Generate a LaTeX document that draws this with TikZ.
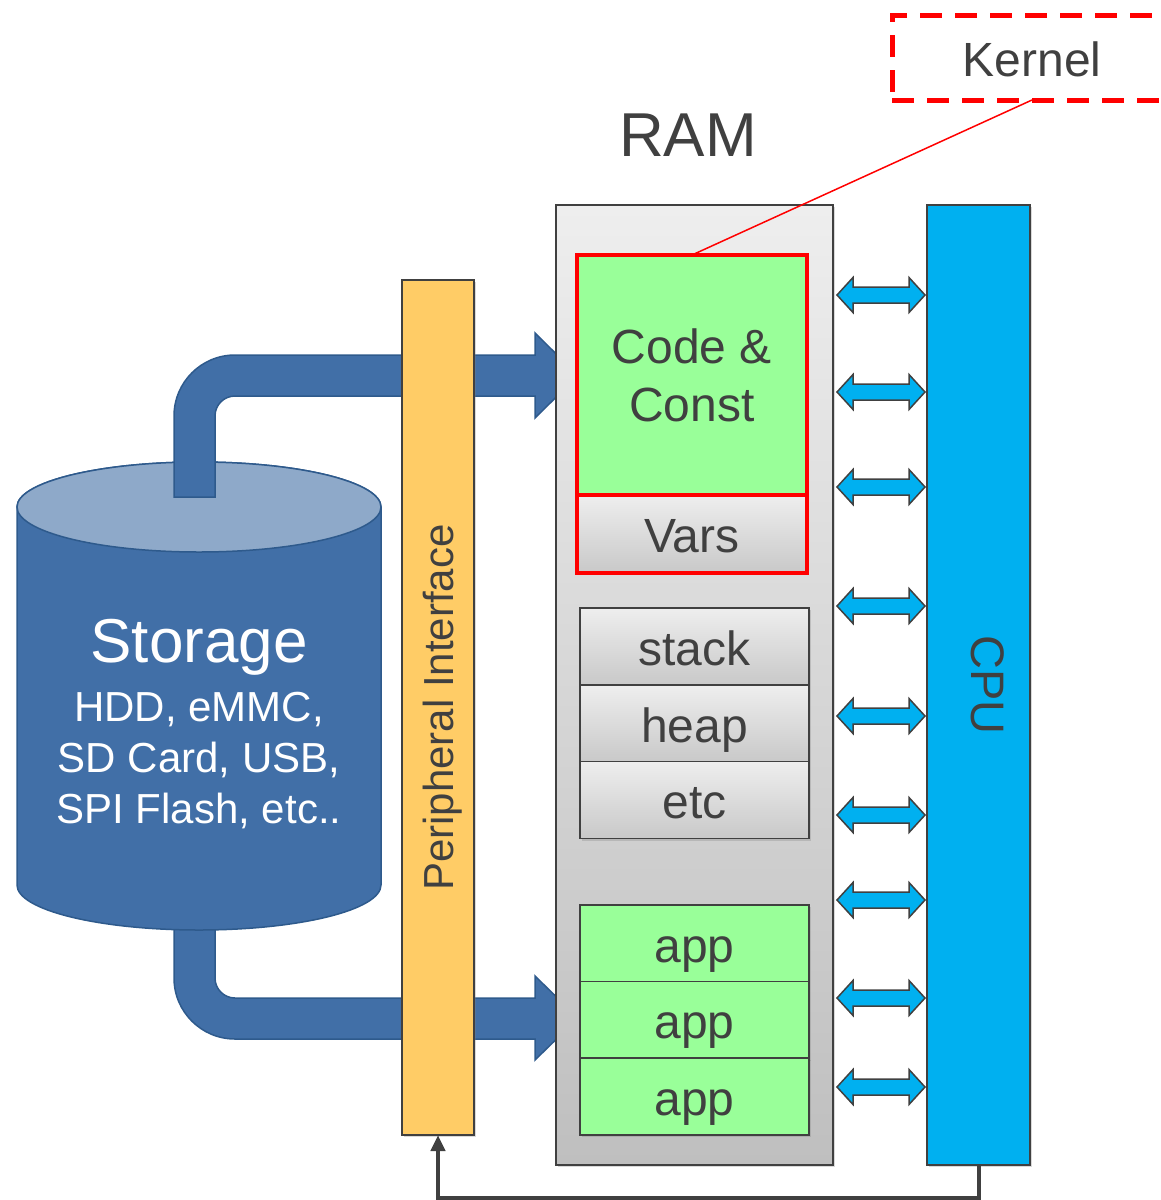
\documentclass[tikz,border=0pt]{standalone}
\usepackage{fontspec}
\setmainfont{Liberation Sans}
\usetikzlibrary{arrows.meta, shadows}

\definecolor{txtgray}{HTML}{404040}
\definecolor{ramtop}{HTML}{EEEEEE}
\definecolor{rambot}{HTML}{BFBFBF}
\definecolor{memgreen}{HTML}{99FF99}
\definecolor{cpublue}{HTML}{00B0F0}
\definecolor{periorange}{HTML}{FFCC66}
\definecolor{storeblue}{HTML}{416FA7}
\definecolor{storetop}{HTML}{8EA9C9}
\definecolor{storeedge}{HTML}{2E5A8C}

\begin{document}
\begin{tikzpicture}[x=1pt, y=-1pt,
    every node/.style={text=txtgray, inner sep=0pt, outer sep=0pt},
    softshadow/.style={drop shadow={shadow xshift=2pt, shadow yshift=-2pt, opacity=0.3}},
    membox/.style={rectangle, draw=txtgray, line width=1.5pt, minimum width=229pt, minimum height=77pt, top color=ramtop, bottom color=rambot!85, font=\fontsize{48}{52}\selectfont, text height=37pt, text depth=0pt, softshadow},
    appbox/.style={membox, top color=memgreen, bottom color=memgreen},
    kernbox/.style={rectangle, draw=red, line width=4pt, minimum width=230pt, font=\fontsize{48}{58}\selectfont, align=center},
    bar/.style={rectangle, draw=txtgray, line width=1.5pt, minimum height=960pt, softshadow},
    bigarrow/.style={fill=storeblue, draw=storeedge, line width=1.5pt},
    busarrow/.style={fill=cpublue, draw=txtgray, line width=1.5pt}
]
    \useasboundingbox (0,0) rectangle (1160,1200);
    \clip (0,0) rectangle (1160,1200);

    % storage and the two big arrows
    \draw[bigarrow] (174,900) -- (174,978) arc[start angle=180, end angle=270, radius=61pt] -- (535,1039) -- (535,1060) -- (578,1018) -- (535,976) -- (535,998) -- (235,998) arc[start angle=270, end angle=180, radius=20pt] -- (215,900) -- cycle;
    \draw[bigarrow] (17,507) -- (17,885) arc[start angle=180, end angle=360, x radius=182pt, y radius=45pt] -- (381,507) arc[start angle=0, end angle=180, x radius=182pt, y radius=45pt] -- cycle;
    \draw[bigarrow, fill=storetop] (199,507) ellipse[x radius=182pt, y radius=45pt];
    \draw[bigarrow] (174,497) -- (174,416) arc[start angle=180, end angle=90, radius=61pt] -- (535,355) -- (535,333) -- (578,375.5) -- (535,418) -- (535,396) -- (235,396) arc[start angle=90, end angle=180, radius=20pt] -- (215,497) -- cycle;
    \node[text=white, align=center, font=\fontsize{42}{51}\selectfont] (storage) at (199,724) {{\fontsize{62}{62}\selectfont Storage}\\[8pt] HDD, eMMC,\\ SD Card, USB,\\ SPI Flash, etc..};

    % peripheral, ram, cpu
    \node[bar, fill=periorange, minimum width=72pt, minimum height=855pt] (periph) at (438,707.5) {};
    \node[xshift=5pt, rotate=90, font=\fontsize{42}{46}\selectfont] (periphlabel) at (periph.center) {Peripheral Interface};
    \node[bar, minimum width=277pt, top color=ramtop, bottom color=rambot] (ram) at (694.5,685) {};
    \node[font=\fontsize{62}{66}\selectfont] (ramlabel) at (688,135) {RAM};
    \node[bar, fill=cpublue, minimum width=103pt] (cpu) at (978.5,685) {};
    \node[xshift=9pt, rotate=-90, font=\fontsize{47}{50}\selectfont] (cpulabel) at (cpu.center) {CPU};

    % memory contents
    \node[kernbox, fill=memgreen, minimum height=240pt] (code) at (692,375) {Code \&\\Const};
    \node[kernbox, minimum height=78pt, top color=ramtop, bottom color=rambot!85, text height=37pt, text depth=0pt] (vars) at (692,534) {Vars};
    \node[membox] (stack) at (694.5,646.5) {stack};
    \node[membox] (heap) at (694.5,723.5) {heap};
    \node[membox] (etc) at (694.5,800) {etc};
    \node[appbox] (app1) at (694.5,943.5) {app};
    \node[appbox] (app2) at (694.5,1020) {app};
    \node[appbox] (app3) at (694.5,1096.5) {app};

    % kernel callout
    \node[rectangle, draw=red, line width=5pt, dash pattern=on 22pt off 13pt, minimum width=280pt, minimum height=85pt, font=\fontsize{48}{52}\selectfont, text height=38pt, text depth=0pt] (kernel) at (1032,57.5) {Kernel};
    \draw[red, line width=1.5pt] (kernel.south) -- (code.north);

    % bus between ram and cpu
    \foreach \y in {295,392,487,606,716,815,900,998,1087}
        \draw[busarrow] (881,\y) +(-44,0) -- +(-28,-17.5) -- +(-28,-8) -- +(28,-8) -- +(28,-17.5) -- +(44,0) -- +(28,17.5) -- +(28,8) -- +(-28,8) -- +(-28,17.5) -- cycle;

    \draw[-{Triangle[length=16pt, width=14pt]}, line width=4pt, txtgray] (cpu.south) -- ++(0,33) -| (periph.south);
\end{tikzpicture}
\end{document}
